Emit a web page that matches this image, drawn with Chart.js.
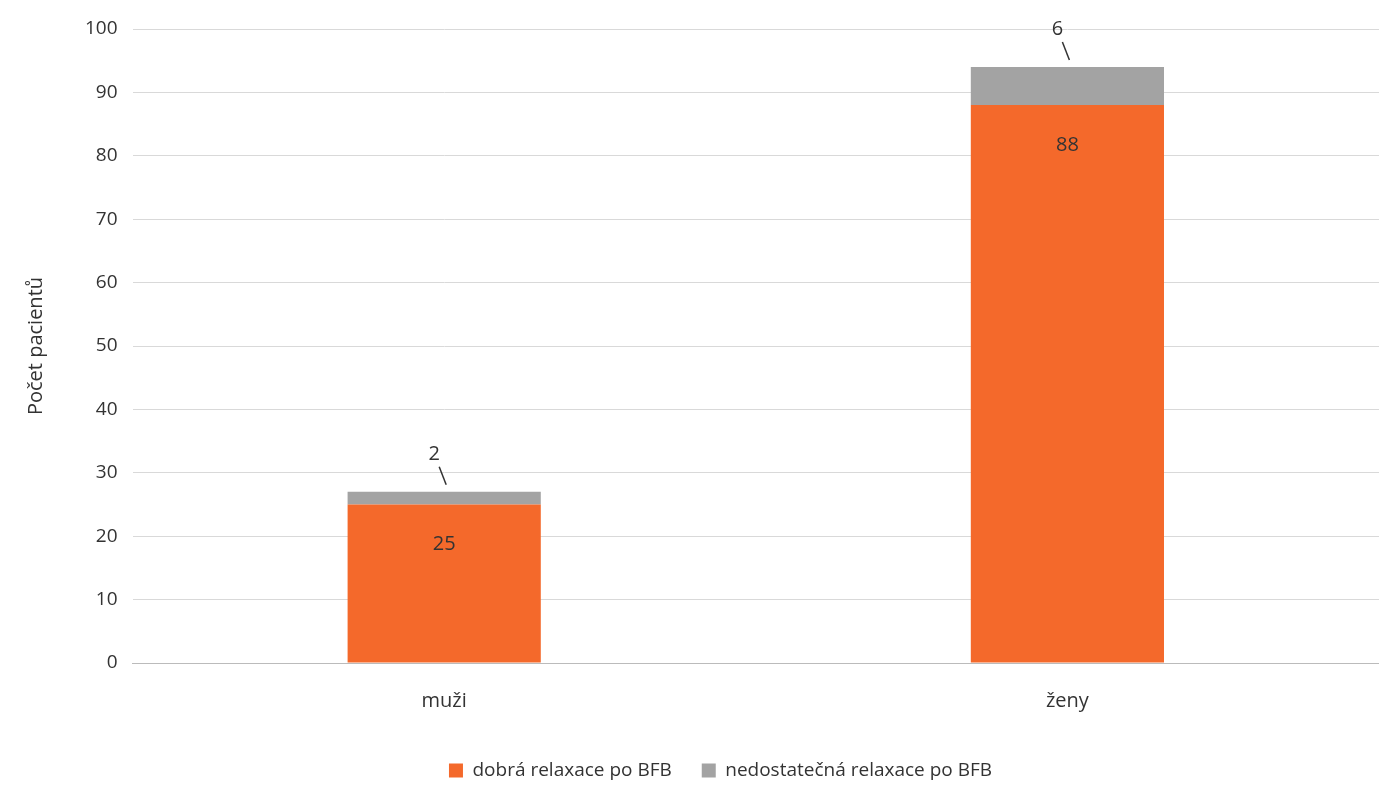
<!DOCTYPE html>
<html>
<head>
<meta charset="utf-8">
<script src="https://cdn.jsdelivr.net/npm/chart.js@4"></script>
<style>
  html, body { margin: 0; padding: 0; background: #fff; overflow: hidden; }
  #wrap { width: 1379px; height: 800px; }
</style>
</head>
<body>
<div id="wrap"><canvas id="chart"></canvas></div>
<script>
const categories = ['muži', 'ženy'];
const goodRelax = [25, 88];
const poorRelax = [2, 6];
const yTicks = [0, 10, 20, 30, 40, 50, 60, 70, 80, 90, 100];

// draws the value labels: inside the orange bar, above the grey one with a short leader
const barLabels = {
  id: 'barLabels',
  afterDatasetsDraw(chart) {
    const c = chart.ctx;
    c.save();
    c.font = '20px "Open Sans", sans-serif';
    c.fillStyle = '#333';
    c.textAlign = 'center';
    c.textBaseline = 'middle';
    chart.getDatasetMeta(0).data.forEach((bar, i) => {
      c.fillText(goodRelax[i], bar.x, bar.y + 40);
    });
    chart.getDatasetMeta(1).data.forEach((bar, i) => {
      c.fillText(poorRelax[i], bar.x - 10, bar.y - 38);
      c.strokeStyle = '#333';
      c.lineWidth = 1.5;
      c.beginPath();
      c.moveTo(bar.x - 5, bar.y - 25);
      c.lineTo(bar.x + 2, bar.y - 7);
      c.stroke();
    });
    c.restore();
  }
};

new Chart(document.getElementById('chart'), {
  type: 'bar',
  data: {
    labels: categories,
    datasets: [
      { label: 'dobrá relaxace po BFB', data: goodRelax, backgroundColor: '#F4692B',
        categoryPercentage: 1, barPercentage: 0.31 },
      { label: 'nedostatečná relaxace po BFB', data: poorRelax, backgroundColor: '#A3A3A3',
        categoryPercentage: 1, barPercentage: 0.31 }
    ]
  },
  plugins: [barLabels],
  options: {
    responsive: true,
    maintainAspectRatio: false,
    animation: false,
    layout: { padding: { left: 20, right: -42, top: 29, bottom: 10 } },
    plugins: {
      tooltip: { enabled: false },
      legend: {
        position: 'bottom',
        labels: {
          boxWidth: 14, boxHeight: 14, padding: 30,
          color: '#333', font: { family: '"Open Sans", sans-serif', size: 19 }
        }
      }
    },
    scales: {
      x: {
        stacked: true,
        grid: { display: false },
        border: { color: '#bbb' },
        ticks: { color: '#333', padding: 18, font: { family: '"Open Sans", sans-serif', size: 20 } }
      },
      y: {
        stacked: true,
        min: 0, max: 100,
        afterBuildTicks(axis) { axis.ticks = yTicks.map(v => ({ value: v })); },
        grid: { color: '#d9d9d9', drawTicks: false },
        border: { display: false },
        title: { display: true, text: 'Počet pacientů', color: '#333',
                 font: { family: '"Open Sans", sans-serif', size: 20 }, padding: { bottom: 22 } },
        ticks: { color: '#333', padding: 15, font: { family: '"Open Sans", sans-serif', size: 19 } }
      }
    }
  }
});
</script>
</body>
</html>
